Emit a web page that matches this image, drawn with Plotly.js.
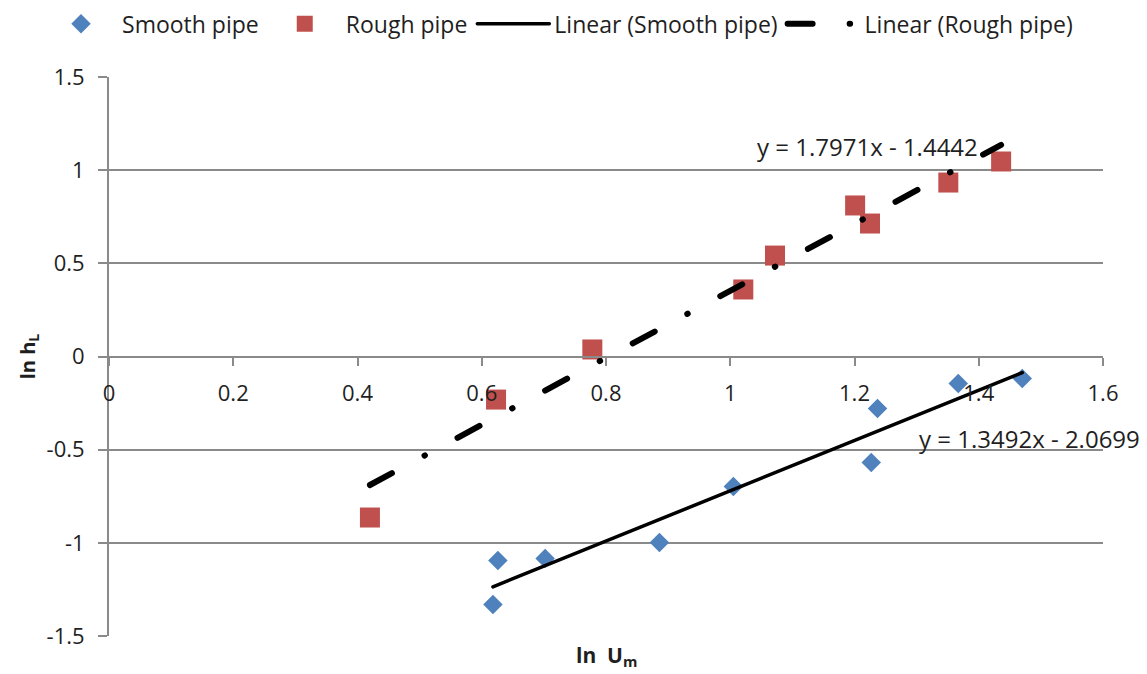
<!DOCTYPE html>
<html>
<head>
<meta charset="utf-8">
<script src="https://cdn.plot.ly/plotly-3.0.1.min.js"></script>
<style>
  html, body { margin: 0; padding: 0; background: #ffffff; }
  #chart { width: 1147px; height: 674px; }
  .js-line { stroke-linecap: round; }
</style>
</head>
<body>
<div id="chart"></div>
<script>
// ---- data ----
const smoothX = [0.618, 0.626, 0.702, 0.886, 1.005, 1.227, 1.237, 1.367, 1.470];
const smoothY = [-1.331, -1.095, -1.084, -0.998, -0.698, -0.569, -0.279, -0.145, -0.118];
const roughX  = [0.420, 0.623, 0.778, 1.021, 1.072, 1.201, 1.225, 1.351, 1.436];
const roughY  = [-0.864, -0.231, 0.038, 0.360, 0.542, 0.811, 0.714, 0.934, 1.047];

const smoothFit = { slope: 1.3492, intercept: -2.0699 };
const roughFit  = { slope: 1.7971, intercept: -1.4442 };

const seriesNames = ["Smooth pipe", "Rough pipe", "Linear (Smooth pipe)", "Linear (Rough pipe)"];
const xTicks = [0, 0.2, 0.4, 0.6, 0.8, 1, 1.2, 1.4, 1.6];
const xTickText = ["0", "0.2", "0.4", "0.6", "0.8", "1", "1.2", "1.4", "1.6"];
const yTicks = [-1.5, -1, -0.5, 0, 0.5, 1, 1.5];
const yTickText = ["-1.5", "-1", "-0.5", "0", "0.5", "1", "1.5"];

// ---- helpers ----
function fitLine(xs, fit) {
  const lo = Math.min.apply(null, xs), hi = Math.max.apply(null, xs);
  return { x: [lo, hi], y: [fit.slope * lo + fit.intercept, fit.slope * hi + fit.intercept] };
}
function eqText(fit) {
  return "y = " + fit.slope.toFixed(4) + "x - " + Math.abs(fit.intercept).toFixed(4);
}

const FONT = "'Open Sans', 'Liberation Sans', sans-serif";
const TXT = "#1f1f1f";
const GRID = "#8a8a8a";

const sLine = fitLine(smoothX, smoothFit);
const rLine = fitLine(roughX, roughFit);

const traces = [
  { type: "scatter", mode: "markers", name: seriesNames[0], x: smoothX, y: smoothY,
    marker: { symbol: "diamond", size: 15, color: "#4f81bd" } },
  { type: "scatter", mode: "markers", name: seriesNames[1], x: roughX, y: roughY,
    marker: { symbol: "square", size: 20, color: "#c0504d" } },
  { type: "scatter", mode: "lines", name: seriesNames[2], x: sLine.x, y: sLine.y,
    line: { color: "#000000", width: 3.5 } },
  { type: "scatter", mode: "lines", name: seriesNames[3], x: rLine.x, y: rLine.y,
    line: { color: "#000000", width: 6, dash: "25px,37px,0.5px,37px" } }
];

const layout = {
  width: 1147, height: 674,
  margin: { l: 109, r: 44, t: 77, b: 38, autoexpand: false },
  paper_bgcolor: "#ffffff", plot_bgcolor: "#ffffff",
  font: { family: FONT, size: 22, color: TXT },
  showlegend: true,
  legend: {
    orientation: "h", x: -0.0694, xanchor: "left", y: 1.095, yanchor: "middle",
    font: { family: FONT, size: 23, color: TXT }, itemwidth: 72, bgcolor: "rgba(0,0,0,0)"
  },
  xaxis: {
    range: [0, 1.6], anchor: "free", position: 0.5,
    tickmode: "array", tickvals: xTicks, ticktext: xTickText,
    showline: true, linecolor: GRID, linewidth: 2,
    ticks: "outside", ticklen: 8, tickwidth: 2, tickcolor: GRID,
    showgrid: false, zeroline: false, fixedrange: true, ticklabelstandoff: 9,
    tickfont: { family: FONT, size: 22, color: TXT }
  },
  yaxis: {
    range: [-1.5, 1.5005],
    tickmode: "array", tickvals: yTicks, ticktext: yTickText,
    showline: true, linecolor: GRID, linewidth: 2,
    ticks: "outside", ticklen: 9, tickwidth: 2, tickcolor: GRID,
    showgrid: true, gridcolor: GRID, gridwidth: 2, zeroline: false, fixedrange: true,
    ticklabelstandoff: 9,
    tickfont: { family: FONT, size: 22, color: TXT },
    title: { text: "<b>ln h<sub>L</sub></b>", font: { family: FONT, size: 20, color: TXT }, standoff: 6 }
  },
  annotations: [
    { xref: "paper", yref: "paper", x: 0.5, y: -0.036, xanchor: "center", yanchor: "middle",
      text: "<b>ln  U<sub>m</sub></b>", showarrow: false, font: { family: FONT, size: 21, color: TXT } },
    { xref: "x", yref: "y", x: 1.2206, y: 1.127, xanchor: "center", yanchor: "middle",
      text: eqText(roughFit), showarrow: false, font: { family: FONT, size: 24, color: TXT } },
    { xref: "x", yref: "y", x: 1.4815, y: -0.44, xanchor: "center", yanchor: "middle",
      text: eqText(smoothFit), showarrow: false, font: { family: FONT, size: 24, color: TXT } }
  ],
  hovermode: false
};

Plotly.newPlot("chart", traces, layout, { staticPlot: true, displayModeBar: false });
</script>
</body>
</html>
